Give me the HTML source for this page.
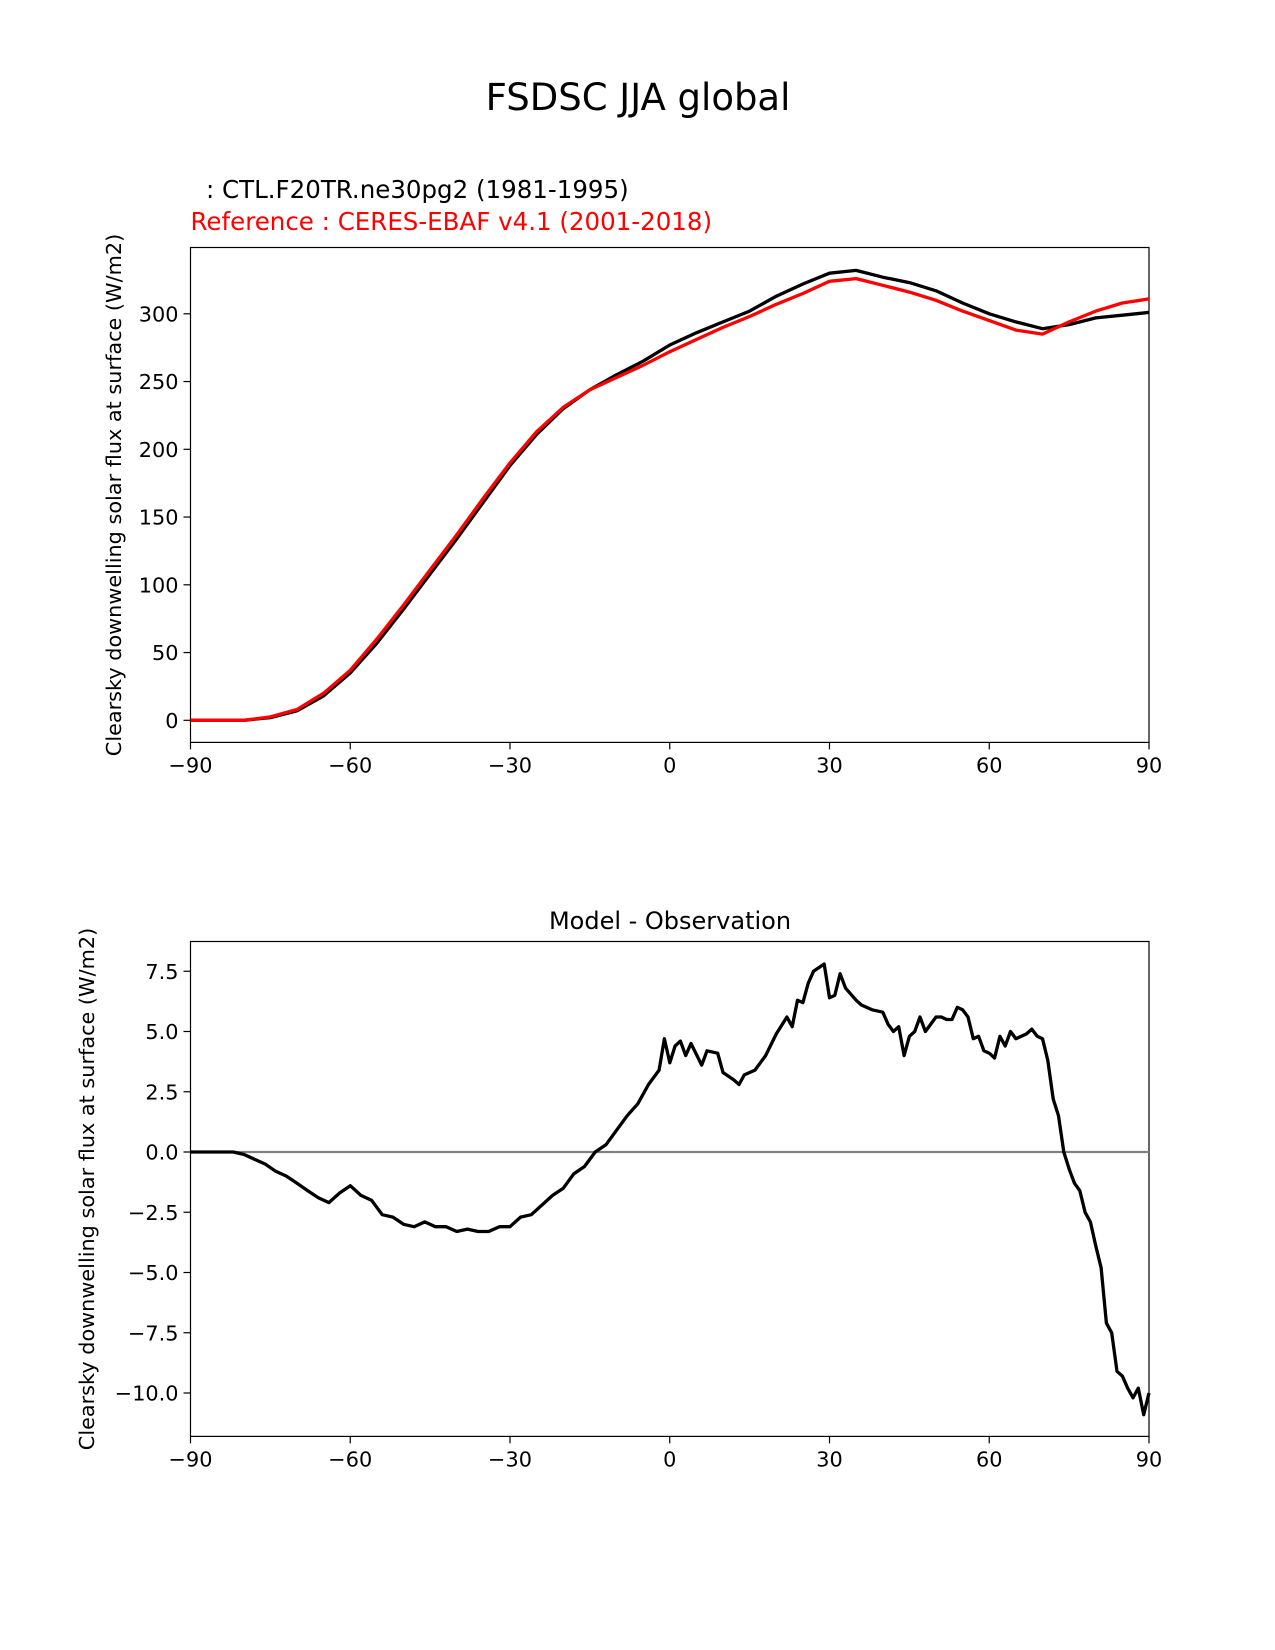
<!DOCTYPE html>
<html><head><meta charset="utf-8"><style>
body{margin:0;background:#fff}
svg{display:block;font-family:"DejaVu Sans","Liberation Sans",sans-serif}
</style></head><body>
<svg id="fig" width="1275" height="1650" viewBox="0 0 1275 1650">
<text x="638" y="110" font-size="37" text-anchor="middle">FSDSC JJA global</text>
<text x="206" y="198" font-size="24.5">: CTL.F20TR.ne30pg2 (1981-1995)</text>
<text x="190.5" y="230" font-size="24.5" fill="red">Reference : CERES-EBAF v4.1 (2001-2018)</text>
<text x="670" y="929" font-size="24" text-anchor="middle">Model - Observation</text>
<text transform="translate(121,495) rotate(-90)" font-size="20.8" text-anchor="middle">Clearsky downwelling solar flux at surface (W/m2)</text>
<text transform="translate(94,1189) rotate(-90)" font-size="20.8" text-anchor="middle">Clearsky downwelling solar flux at surface (W/m2)</text>
<g id="topChart"></g>
<g id="botChart"></g>
</svg>
<script>
const latTop=[-90,-85,-80,-75,-70,-65,-60,-55,-50,-45,-40,-35,-30,-25,-20,-15,-10,-5,0,5,10,15,20,25,30,35,40,45,50,55,60,65,70,75,80,85,90];
const modelVals=[0,0,0,2,7,18,35,57,82,108,134,161,188,211,230,244,255,265,277,286,294,302,313,322,330,332,327,323,317,308,300,294,289,292,297,299,301];
const obsVals=[0,0,0,2.5,8,20,37,60,85,111,137,164,190,213,231,244,253,262,272,281,290,298,307,315,324,326,321,316,310,302,295,288,285,294,302,308,311];
const latDiff=[-90,-88,-86,-84,-82,-80,-78,-76,-74,-72,-70,-68,-66,-64,-62,-60,-58,-56,-54,-52,-50,-48,-46,-44,-42,-40,-38,-36,-34,-32,-30,-28,-26,-24,-22,-20,-18,-16,-14,-12,-10,-8,-6,-4,-2,-1,0,1,2,3,4,6,7,9,10,12,13,14,16,17,18,20,22,23,24,25,26,27,29,30,31,32,33,35,36,38,40,41,42,43,44,45,46,47,48,50,51,52,53,54,55,56,57,58,59,60,61,62,63,64,65,67,68,69,70,71,72,73,74,75,76,77,78,79,80,81,82,83,84,85,86,87,88,89,90];
const diffVals=[0,0,0,0,0,-0.1,-0.3,-0.5,-0.8,-1.0,-1.3,-1.6,-1.9,-2.1,-1.7,-1.4,-1.8,-2.0,-2.6,-2.7,-3.0,-3.1,-2.9,-3.1,-3.1,-3.3,-3.2,-3.3,-3.3,-3.1,-3.1,-2.7,-2.6,-2.2,-1.8,-1.5,-0.9,-0.6,0,0.3,0.9,1.5,2.0,2.8,3.4,4.7,3.7,4.4,4.6,4.0,4.5,3.6,4.2,4.1,3.3,3.0,2.8,3.2,3.4,3.7,4.0,4.9,5.6,5.2,6.3,6.2,7.0,7.5,7.8,6.4,6.5,7.4,6.8,6.3,6.1,5.9,5.8,5.3,5.0,5.2,4.0,4.8,5.0,5.6,5.0,5.6,5.6,5.5,5.5,6.0,5.9,5.6,4.7,4.8,4.2,4.1,3.9,4.8,4.4,5.0,4.7,4.9,5.1,4.8,4.7,3.8,2.2,1.5,0,-0.7,-1.3,-1.6,-2.5,-2.9,-3.9,-4.8,-7.1,-7.5,-9.1,-9.3,-9.8,-10.2,-9.8,-10.9,-10.0];
const xTicks=[-90,-60,-30,0,30,60,90];
const xTickLabels=["\u221290","\u221260","\u221230","0","30","60","90"];
const topYTicks=[0,50,100,150,200,250,300];
const botYTicks=[-10,-7.5,-5,-2.5,0,2.5,5,7.5];
const botYTickLabels=["\u221210.0","\u22127.5","\u22125.0","\u22122.5","0.0","2.5","5.0","7.5"];
const NS="http://www.w3.org/2000/svg";
function mk(t,a,p){const e=document.createElementNS(NS,t);for(const k in a)e.setAttribute(k,a[k]);p.appendChild(e);return e;}
const L=190.5,R=1149;
const xs=v=>L+(v+90)/180*(R-L);
function axes(g,T,B,ys,yt,ytl,name){
  xTicks.forEach((v,i)=>{
    const l=mk('line',{x1:xs(v),x2:xs(v),y1:B,y2:B+7,stroke:'#000','stroke-width':1.2},g);
    
    
    const t=mk('text',{x:xs(v),y:B+30,'font-size':20.8,'text-anchor':'middle'},g);t.textContent=xTickLabels[i];
    
    
  });
  yt.forEach((v,i)=>{
    const y=ys(v);
    const l=mk('line',{x1:L-7,x2:L,y1:y,y2:y,stroke:'#000','stroke-width':1.2},g);
    
    
    const t=mk('text',{x:L-12,y:y+7.5,'font-size':20.8,'text-anchor':'end'},g);t.textContent=ytl[i];
    
    
  });
  const r=mk('rect',{x:L,y:T,width:R-L,height:B-T,fill:'none',stroke:'#000','stroke-width':1.2},g);
  
  
}
function line(g,xa,ya,ys,col,nm){
  const d=xa.map((v,i)=>(i?'L':'M')+xs(v).toFixed(1)+','+ys(ya[i]).toFixed(1)).join('');
  const p=mk('path',{d:d,fill:'none',stroke:col,'stroke-width':3.3,'stroke-linejoin':'round'},g);
  
  
}
const topG=document.getElementById('topChart');
const ysT=v=>720.3-v*(720.3-313.8)/300;
axes(topG,247.5,742.4,ysT,topYTicks,topYTicks.map(String),'top');
line(topG,latTop,modelVals,ysT,'#000','model-line');
line(topG,latTop,obsVals,ysT,'red','observation-line');
const botG=document.getElementById('botChart');
const ysB=v=>1152-v*24.1;
axes(botG,941.5,1436.4,ysB,botYTicks,botYTickLabels,'bottom');
const z=mk('line',{x1:L,x2:R,y1:ysB(0),y2:ysB(0),stroke:'#808080','stroke-width':2.2},botG);


line(botG,latDiff,diffVals,ysB,'#000','difference-line');
</script>
</body></html>
